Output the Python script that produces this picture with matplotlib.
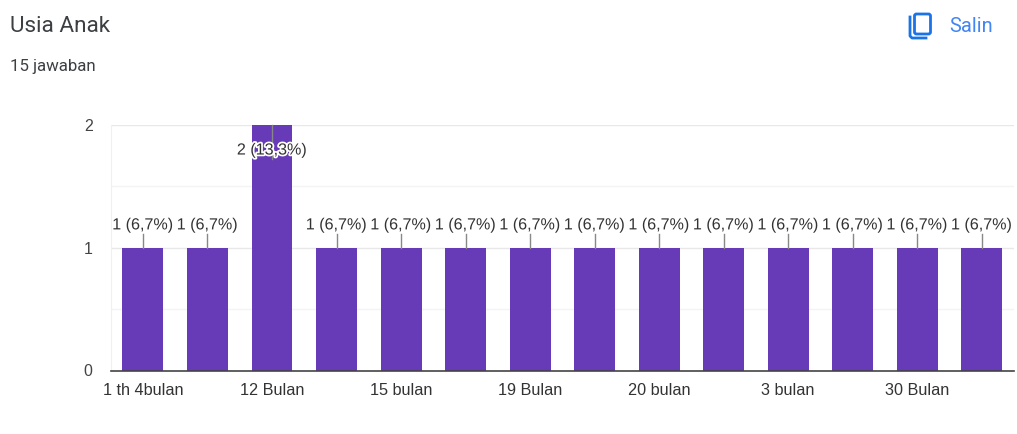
import matplotlib
matplotlib.use("Agg")
import matplotlib.pyplot as plt
from matplotlib.patches import FancyBboxPatch
from matplotlib.lines import Line2D
import matplotlib.patheffects as pe

plt.rcParams['font.family'] = ['Liberation Sans', 'DejaVu Sans']

# data
categories = ['1 th 4bulan', '', '12 Bulan', '', '15 bulan', '', '19 Bulan', '',
              '20 bulan', '', '3 bulan', '', '30 Bulan', '']
counts = [1, 1, 2, 1, 1, 1, 1, 1, 1, 1, 1, 1, 1, 1]
labels = ['1 (6,7%)', '1 (6,7%)', '2 (13,3%)', '1 (6,7%)', '1 (6,7%)', '1 (6,7%)', '1 (6,7%)',
          '1 (6,7%)', '1 (6,7%)', '1 (6,7%)', '1 (6,7%)', '1 (6,7%)', '1 (6,7%)', '1 (6,7%)']
yticks = [0, 1, 2]

W, H = 1017, 434
fig = plt.figure(figsize=(W / 100, H / 100), dpi=100)
fig.patch.set_facecolor('white')

# axes in pixels: left 110.7, right 1014, top 125, bottom 370.5
ax = fig.add_axes([110.7 / W, 1 - 370.5 / H, (1014 - 110.7) / W, (370.5 - 125) / H])
x = list(range(len(counts)))
ax.bar(x, counts, width=0.635, color='#673ab7', zorder=2)
ax.set_xlim(-0.5, len(counts) - 0.5)
ax.set_ylim(0, 2)

# grid
ax.set_yticks(yticks)
ax.set_yticks([0.5, 1.5], minor=True)
ax.grid(True, axis='y', which='major', color='#e8e8e8', lw=1, zorder=0)
ax.grid(True, axis='y', which='minor', color='#f4f4f4', lw=1, zorder=0)
ax.tick_params(axis='y', which='both', length=0, labelsize=11.5, labelcolor='#444444', pad=13)
ax.set_xticks(x)
ax.set_xticklabels(categories, fontsize=11.7, color='#333333')
ax.tick_params(axis='x', length=0, pad=9)
for s in ['top', 'right']:
    ax.spines[s].set_visible(False)
ax.spines['left'].set_color('#f0f0f0')
ax.spines['bottom'].set_color('#444444')
ax.spines['bottom'].set_linewidth(1.2)
ax.spines['bottom'].set_zorder(5)

# bar annotations with leader lines
for xi, c, lab in zip(x, counts, labels):
    if c == 2:
        ax.plot([xi, xi], [c, c - 0.28], color='#888888', lw=1, zorder=3, clip_on=False)
        ax.text(xi, c - 0.204, lab, ha='center', va='center', fontsize=11.6, color='#333333', zorder=4,
                path_effects=[pe.withStroke(linewidth=2.5, foreground='white')])
    else:
        ax.plot([xi, xi], [c, c + 0.11], color='#888888', lw=1, zorder=3)
        ax.text(xi, c + 0.125, lab, ha='center', va='bottom', fontsize=11.6, color='#333333', zorder=4,
                path_effects=[pe.withStroke(linewidth=2, foreground='white')])

# header text
fig.text(10 / W, 1 - 27 / H, 'Usia Anak', fontsize=16.2, color='#3c4043', ha='left', va='center',
         family=['Roboto', 'DejaVu Sans'])
fig.text(10 / W, 1 - 66 / H, '15 jawaban', fontsize=12.2, color='#3c4043', ha='left', va='center',
         family=['Roboto', 'DejaVu Sans'])
fig.text(949 / W, 1 - 26 / H, 'Salin', fontsize=14.4, color='#4285f4', ha='left', va='center',
         family=['Roboto', 'DejaVu Sans'])

# copy icon
bg = fig.add_axes([0, 0, 1, 1], zorder=10)
bg.set_xlim(0, W)
bg.set_ylim(H, 0)
bg.axis('off')
bg.patch.set_alpha(0)
blue = '#1a73e8'
bg.add_patch(FancyBboxPatch((914.5, 14), 16, 20, boxstyle='round,pad=0,rounding_size=2',
                            fc='none', ec=blue, lw=2))
bg.add_line(Line2D([910, 910, 912, 926], [17, 36, 38, 38], color=blue, lw=2))

fig.savefig('out.png', dpi=100)
